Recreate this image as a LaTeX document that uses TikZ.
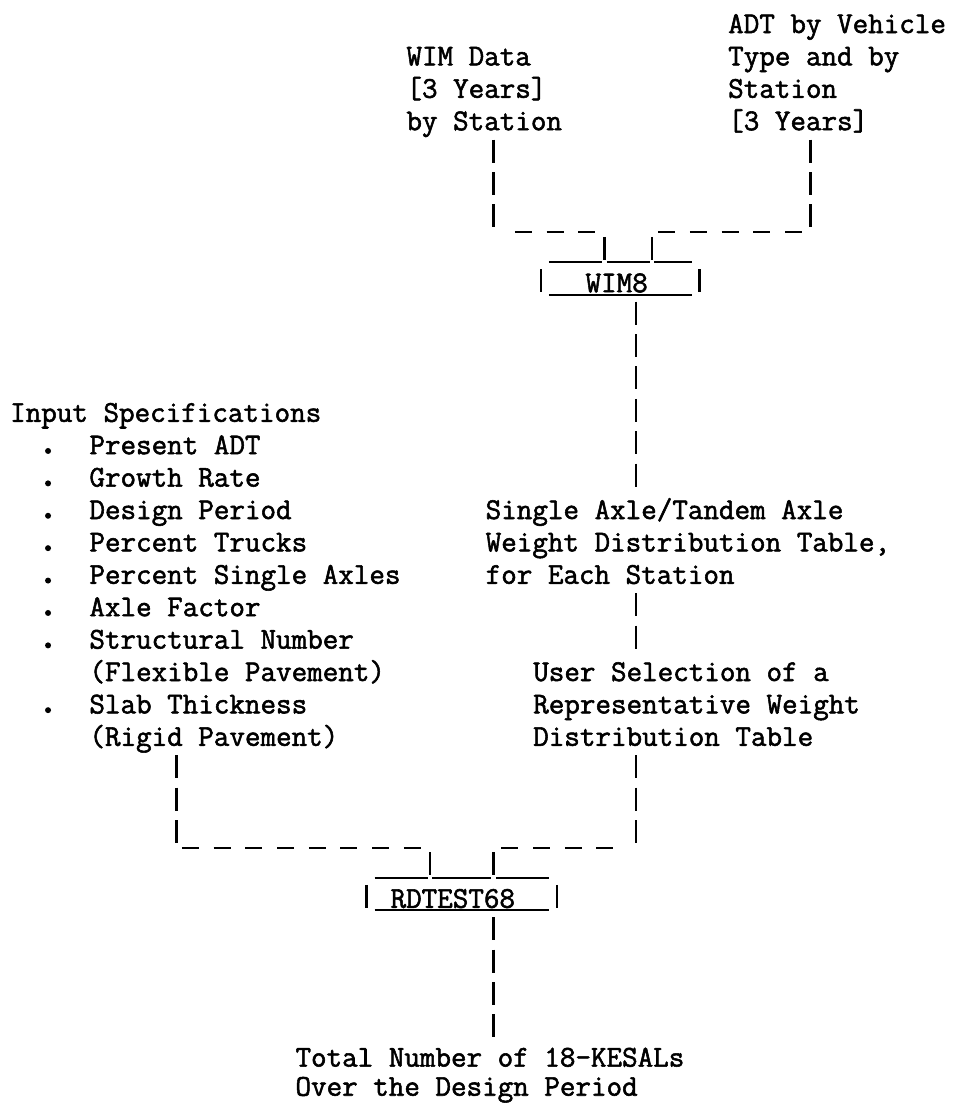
\documentclass[tikz,border=0pt]{standalone}
\usepackage{fontspec}
\newfontfamily\tw{Latin Modern Mono}[FakeBold=1.8]
\begin{document}
\begin{tikzpicture}[x=15.85pt,y=-32.4pt,
  txt/.style={anchor=base west,inner sep=0pt,font={\fontsize{30.2pt}{32.4pt}\tw}},
  bar/.style={line width=2.4pt,dash pattern=on 23pt off 9.4pt},
  tick/.style={line width=2.4pt},
  uline/.style={line width=2.1pt},
  hdash/.style={line width=2.4pt,dash pattern=on 17pt off 14.7pt}]
\useasboundingbox (-0.6309,-1.0185) rectangle (59.432,33.117);
% ---- top inputs
\node[txt] (adt1) at (45.3,0) {ADT by Vehicle};
\node[txt] (adt2) at (45.3,1) {Type and by};
\node[txt] (adt3) at (45.3,2) {Station};
\node[txt] (adt4) at (45.3,3) {[3 Years]};
\node[txt] (wim1) at (25,1) {WIM Data};
\node[txt] (wim2) at (25,2) {[3 Years]};
\node[txt] (wim3) at (25,3) {by Station};
% connectors to WIM8
\coordinate (wa) at (30.5,3.29); \coordinate (wb) at (30.5,6);
\coordinate (va) at (50.5,3.29); \coordinate (vb) at (50.5,6);
\draw[bar] (wa) -- (wb);
\draw[bar] (va) -- (vb);
\coordinate (h1) at (31.85,6.15); \coordinate (h2) at (37.2,6.15);
\coordinate (h3) at (40.9,6.15); \coordinate (h4) at (50.2,6.15);
\draw[hdash] (h1) -- (h2);
\draw[hdash] (h3) -- (h4);
\coordinate (t1a) at (37.5,6.29); \coordinate (t1b) at (37.5,7);
\coordinate (t2a) at (40.5,6.29); \coordinate (t2b) at (40.5,7);
\draw[tick] (t1a) -- (t1b);
\draw[tick] (t2a) -- (t2b);
% WIM8 box
\draw[uline] (34,7.08) -- (37.35,7.08);
\draw[uline] (37.65,7.08) -- (40.35,7.08);
\draw[uline] (40.65,7.08) -- (43,7.08);
\draw[tick] (33.5,7.29) -- (33.5,8);
\draw[tick] (43.5,7.29) -- (43.5,8);
\node[txt] (wim8) at (36.3,8) {WIM8};
\draw[uline] (34,8.08) -- (43,8.08);
% WIM8 -> table
\coordinate (c1) at (39.5,8.29); \coordinate (c2) at (39.5,14);
\draw[bar] (c1) -- (c2);
\node[txt] (sa1) at (30,15) {Single Axle/Tandem Axle};
\node[txt] (sa2) at (30,16) {Weight Distribution Table,};
\node[txt] (sa3) at (30,17) {for Each Station};
\coordinate (d1) at (39.5,17.29); \coordinate (d2) at (39.5,19);
\draw[bar] (d1) -- (d2);
\node[txt] (us1) at (33,20) {User Selection of a};
\node[txt] (us2) at (33,21) {Representative Weight};
\node[txt] (us3) at (33,22) {Distribution Table};
% input specifications
\node[txt] (in0) at (0,12) {Input Specifications};
\node[txt] (in1) at (5,13) {Present ADT};
\node[txt] (in2) at (5,14) {Growth Rate};
\node[txt] (in3) at (5,15) {Design Period};
\node[txt] (in4) at (5,16) {Percent Trucks};
\node[txt] (in5) at (5,17) {Percent Single Axles};
\node[txt] (in6) at (5,18) {Axle Factor};
\node[txt] (in7) at (5,19) {Structural Number};
\node[txt] (in8) at (5,20) {(Flexible Pavement)};
\node[txt] (in9) at (5,21) {Slab Thickness};
\node[txt] (in10) at (5,22) {(Rigid Pavement)};
\foreach \r in {13,14,15,16,17,18,19,21}
  \fill (2.4,\r-0.1) circle (3pt);
% connectors to RDTEST68
\coordinate (e1) at (10.5,22.29); \coordinate (e2) at (10.5,25);
\coordinate (f1) at (39.5,22.29); \coordinate (f2) at (39.5,25);
\draw[bar] (e1) -- (e2);
\draw[bar] (f1) -- (f2);
\coordinate (g1) at (10.85,25.15); \coordinate (g2) at (26.2,25.15);
\coordinate (g3) at (31,25.15); \coordinate (g4) at (38.05,25.15);
\draw[hdash] (g1) -- (g2);
\draw[hdash] (g3) -- (g4);
\draw[tick] (26.5,25.29) -- (26.5,26);
\draw[tick] (30.5,25.29) -- (30.5,26);
% RDTEST68 box
\draw[uline] (23,26.08) -- (26.35,26.08);
\draw[uline] (26.65,26.08) -- (30.35,26.08);
\draw[uline] (30.65,26.08) -- (34,26.08);
\draw[tick] (22.5,26.29) -- (22.5,27);
\draw[tick] (34.5,26.29) -- (34.5,27);
\node[txt] (rd) at (24,27) {RDTEST68};
\draw[uline] (23,27.08) -- (34,27.08);
% output
\coordinate (k1) at (30.5,27.29); \coordinate (k2) at (30.5,31);
\draw[bar] (k1) -- (k2);
\node[txt] (out1) at (18,31.9) {Total Number of 18-KESALs};
\node[txt] (out2) at (18,32.8) {Over the Design Period};
\end{tikzpicture}
\end{document}
